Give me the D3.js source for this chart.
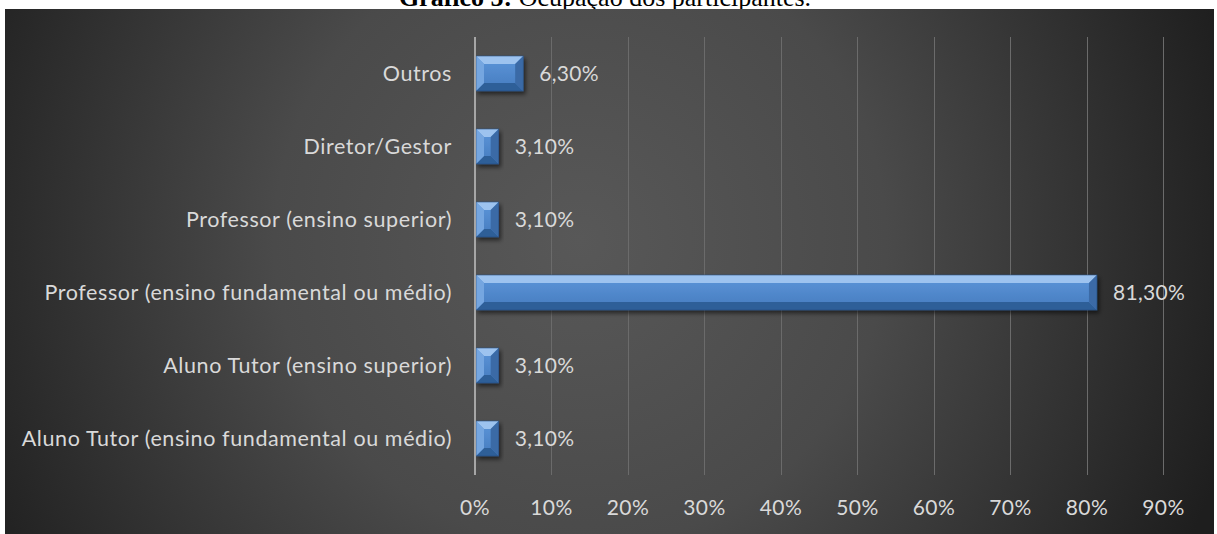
<!DOCTYPE html>
<html><head><meta charset="utf-8">
<script src="https://cdn.jsdelivr.net/npm/d3@7"></script>
<style>
html,body{margin:0;padding:0;background:#fff;}
svg{display:block;}
</style></head>
<body>
<svg id="c" width="1217" height="534"></svg>
<script>
const categories = ["Outros","Diretor/Gestor","Professor (ensino superior)","Professor (ensino fundamental ou médio)","Aluno Tutor (ensino superior)","Aluno Tutor (ensino fundamental ou médio)"];
const values = [6.3, 3.1, 3.1, 81.3, 3.1, 3.1];
const valueLabels = ["6,30%","3,10%","3,10%","81,30%","3,10%","3,10%"];
const ticks = [0,10,20,30,40,50,60,70,80,90];
const tickLabels = ["0%","10%","20%","30%","40%","50%","60%","70%","80%","90%"];

const W = 1217, H = 534;
const svg = d3.select("#c");
const defs = svg.append("defs");

const bg = defs.append("radialGradient").attr("id","bg")
  .attr("gradientUnits","userSpaceOnUse").attr("cx",580).attr("cy",240).attr("r",680)
  .attr("fx",580).attr("fy",240);
bg.append("stop").attr("offset",0).attr("stop-color","#585858");
bg.append("stop").attr("offset",0.45).attr("stop-color","#4a4a4a");
bg.append("stop").attr("offset",0.8).attr("stop-color","#2e2e2e");
bg.append("stop").attr("offset",1).attr("stop-color","#1e1e1e");

const face = defs.append("linearGradient").attr("id","face").attr("x1",0).attr("y1",0).attr("x2",0).attr("y2",1);
face.append("stop").attr("offset",0).attr("stop-color","#5c96da");
face.append("stop").attr("offset",1).attr("stop-color","#467bbe");

const sh = defs.append("filter").attr("id","sh").attr("x","-10%").attr("y","-30%").attr("width","130%").attr("height","180%");
sh.append("feDropShadow").attr("dx",2).attr("dy",3).attr("stdDeviation",2).attr("flood-color","#000").attr("flood-opacity",0.55);

// title (partially hidden by chart area, as in the reference)
const title = svg.append("text").attr("x",605).attr("y",6).attr("text-anchor","middle")
  .style("font-family","'Liberation Serif','Times New Roman',serif").style("font-size","26px").attr("fill","#000");
title.append("tspan").attr("font-weight","bold").text("Gráfico 5:");
title.append("tspan").text(" Ocupação dos participantes.");

svg.append("rect").attr("x",5).attr("y",9).attr("width",1209).attr("height",H-9).attr("fill","url(#bg)");

const x = d3.scaleLinear().domain([0,90]).range([475,1163.5]);
const y = d3.scaleBand().domain(categories).range([37,475]).paddingInner(0.52).paddingOuter(0.26);

const font = "Lato, 'Open Sans', sans-serif";
const txt = "#d9d9d9";

// gridlines
svg.append("g").selectAll("line").data(ticks.slice(1)).join("line")
  .attr("x1",d=>x(d)).attr("x2",d=>x(d)).attr("y1",37).attr("y2",475)
  .attr("stroke","#6b6b6b").attr("stroke-width",1).attr("shape-rendering","crispEdges");

// x tick labels
svg.append("g").selectAll("text").data(ticks).join("text")
  .attr("x",d=>x(d)).attr("y",515).attr("text-anchor","middle")
  .style("font-family",font).style("font-size","21px").style("letter-spacing","0.5px").attr("fill",txt)
  .text((d,i)=>tickLabels[i]);

// bars
const bars = svg.append("g");
categories.forEach((c,i)=>{
  const x0 = x(0)+1, x1 = x(values[i]);
  const y0 = y(c), y1 = y(c)+y.bandwidth();
  const w = x1-x0, h = y1-y0;
  const b = Math.min(8, w/2, h/2);
  const g = bars.append("g").attr("filter","url(#sh)");
  g.append("rect").attr("x",x0).attr("y",y0).attr("width",w).attr("height",h).attr("fill","url(#face)");
  const poly = (pts,fill)=>g.append("polygon").attr("points",pts.map(p=>p.join(",")).join(" ")).attr("fill",fill);
  poly([[x0,y0],[x1,y0],[x1-b,y0+b],[x0+b,y0+b]],"#9dc3ef");
  poly([[x0,y1],[x1,y1],[x1-b,y1-b],[x0+b,y1-b]],"#2f5e98");
  poly([[x0,y0],[x0+b,y0+b],[x0+b,y1-b],[x0,y1]],"#74a6e0");
  poly([[x1,y0],[x1-b,y0+b],[x1-b,y1-b],[x1,y1]],"#3a6aa6");
  g.append("rect").attr("x",x0).attr("y",y0).attr("width",w).attr("height",h).attr("fill","none").attr("stroke","#2a4f80").attr("stroke-width",0.6);
});

// axis line at 0
svg.append("line").attr("x1",x(0)).attr("x2",x(0)).attr("y1",37).attr("y2",475)
  .attr("stroke","#a6a6a6").attr("stroke-width",2);

// category labels
svg.append("g").selectAll("text").data(categories).join("text")
  .attr("x",452).attr("y",d=>y(d)+y.bandwidth()/2).attr("dy","0.36em").attr("text-anchor","end")
  .style("font-family",font).style("font-size","21.5px").style("letter-spacing","0.6px").attr("fill",txt).text(d=>d);

// value labels
svg.append("g").selectAll("text").data(categories).join("text")
  .attr("x",(d,i)=>x(values[i])+16).attr("y",d=>y(d)+y.bandwidth()/2).attr("dy","0.36em")
  .style("font-family",font).style("font-size","21px").style("letter-spacing","0.3px").attr("fill",txt).text((d,i)=>valueLabels[i]);
</script>
</body></html>
